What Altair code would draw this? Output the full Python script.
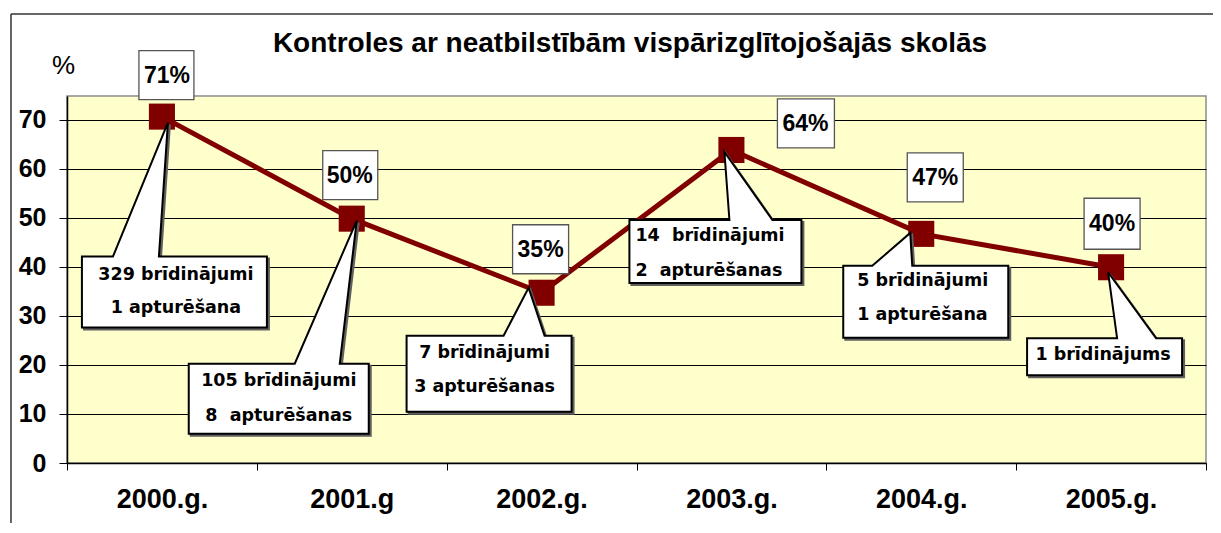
import altair as alt
import pandas as pd

# ---- data ----
years = ["2000.g.", "2001.g", "2002.g.", "2003.g.", "2004.g.", "2005.g."]
values = [70.6, 49.8, 34.7, 63.8, 46.7, 39.9]
pct_labels = ["71%", "50%", "35%", "64%", "47%", "40%"]
notes = [
    "329 brīdinājumi\n1 apturēšana",
    "105 brīdinājumi\n8\u00a0 apturēšanas",
    "7 brīdinājumi\n3 apturēšanas",
    "14\u00a0 brīdinājumi\n2\u00a0 apturēšanas",
    "5 brīdinājumi\n1 apturēšana",
    "1 brīdinājums",
]
y_ticks = [0, 10, 20, 30, 40, 50, 60, 70]
title_text = "Kontroles ar neatbilstībām vispārizglītojošajās skolās"
y_title = "%"

df = pd.DataFrame({"year": years, "value": values, "pct": pct_labels, "note": notes})

# ---- styling (label placement relative to each point, in pixels) ----
callout_paths = [
    "M6,6 L-3,140 L105,140 L105,211 L-80,211 L-80,140 L-49,140 Z",
    "M5,2 L-12,145 L17,145 L17,215 L-163,215 L-163,145 L-57,145 Z",
    "M-13,-5 L3,43 L30,43 L30,119 L-135,119 L-135,43 L-38,43 Z",
    "M-7,2 L41,70 L70,70 L70,133 L-102,133 L-102,70 L-2,70 Z",
    "M-11,-1 L-9,32 L87,32 L87,104 L-78,104 L-78,32 L-49,32 Z",
    "M-3,5 L45,71 L71,71 L71,108 L-84,108 L-84,71 L6,71 Z",
]
callout_text_style = [  # dx, dy (first line), align, lineHeight
    (14, 158, "center", 33),
    (-73, 162, "center", 35),
    (-57, 60, "center", 34),
    (-96, 86, "left", 35),
    (-64, 47, "left", 34),
    (-8, 88, "center", 34),
]
pct_box_paths = [
    "M-23,-66 L32,-66 L32,-17 L-23,-17 Z",
    "M-29,-68 L26,-68 L26,-19 L-29,-19 Z",
    "M-29,-68 L27,-68 L27,-19 L-29,-19 Z",
    "M46,-51 L103,-51 L103,-2 L46,-2 Z",
    "M-14,-81 L42,-81 L42,-32 L-14,-32 Z",
    "M-27,-69 L29,-69 L29,-18 L-27,-18 Z",
]
pct_text_offsets = [(5, -41), (-2, -43), (-1, -43), (74, -26), (14, -56), (1, -43)]

FONT = "Liberation Sans"
PLOT_W, PLOT_H = 1139, 367

X = alt.X(
    "year:N",
    sort=years,
    scale=alt.Scale(type="band", paddingInner=0, paddingOuter=0),
    axis=alt.Axis(
        title=None, labelAngle=0, tickBand="extent", tickSize=7, tickColor="#000",
        domainColor="#000", domainWidth=1.5, labelFont=FONT, labelFontSize=27,
        labelFontWeight="bold", labelColor="#000", labelPadding=16, grid=False,
    ),
)
Y = alt.Y(
    "value:Q",
    scale=alt.Scale(domain=[0, 74.8], nice=False, zero=True),
    axis=alt.Axis(
        values=y_ticks, grid=True, gridColor="#000", gridWidth=1, domainColor="#000",
        domainWidth=1.5, tickColor="#000", tickSize=8, labelFont=FONT, labelFontSize=25,
        labelFontWeight="bold", labelColor="#000", labelPadding=13,
        title=y_title, titleAngle=0, titleFont=FONT, titleFontSize=26,
        titleFontWeight="normal", titleColor="#000", titleX=-4, titleY=-31,
        titleAlign="center", titleBaseline="middle",
    ),
)

base = alt.Chart(df)

line = base.mark_line(color="#800000", strokeWidth=5).encode(x=X, y=Y)
squares = base.mark_square(size=680, color="#800000", opacity=1).encode(x=X, y=Y)

layers = [line, squares]
for i, yr in enumerate(years):
    sub = base.transform_filter(alt.datum.year == yr)
    layers.append(
        sub.mark_point(shape=callout_paths[i], size=4, filled=True, fill="#606060",
                       stroke="#606060", strokeWidth=2, opacity=1, xOffset=2, yOffset=2)
        .encode(x=X, y=Y)
    )
    layers.append(
        sub.mark_point(shape=callout_paths[i], size=4, filled=True, fill="white",
                       stroke="black", strokeWidth=2, opacity=1)
        .encode(x=X, y=Y)
    )
    dx, dy, al, lh = callout_text_style[i]
    layers.append(
        sub.mark_text(dx=dx, dy=dy, align=al, baseline="middle", lineBreak="\n",
                      lineHeight=lh, font="DejaVu Sans", fontWeight="bold",
                      fontSize=17.5, color="#000")
        .encode(x=X, y=Y, text="note:N")
    )
    layers.append(
        sub.mark_point(shape=pct_box_paths[i], size=4, filled=True, fill="white",
                       stroke="#555555", strokeWidth=1.3, opacity=1)
        .encode(x=X, y=Y)
    )
    pdx, pdy = pct_text_offsets[i]
    layers.append(
        sub.mark_text(dx=pdx, dy=pdy, align="center", baseline="middle", font=FONT,
                      fontWeight="bold", fontSize=23, color="#000")
        .encode(x=X, y=Y, text="pct:N")
    )

one = alt.Chart(pd.DataFrame({"t": [title_text]}))
title = one.mark_text(font=FONT, fontSize=28, fontWeight="bold", color="#000",
                      align="center", baseline="middle").encode(
    x=alt.value(563), y=alt.value(-52), text="t:N")
frame_top = one.mark_rule(color="#333333", strokeWidth=1.5).encode(
    x=alt.value(-56), x2=alt.value(1160), y=alt.value(-82))
frame_left = one.mark_rule(color="#333333", strokeWidth=1.5).encode(
    x=alt.value(-56), y=alt.value(-82), y2=alt.value(460))

chart = alt.layer(frame_top, frame_left, title, *layers).properties(
    width=PLOT_W, height=PLOT_H,
    autosize=alt.AutoSizeParams(type="none"),
    padding={"left": 59, "top": 88, "right": 7, "bottom": 60},
    background="white",
).configure_view(fill="#FFFFCC", stroke="#8c8c8c", strokeWidth=1.5)

chart.save("out.html", embed_options={"renderer": "svg", "actions": False})
